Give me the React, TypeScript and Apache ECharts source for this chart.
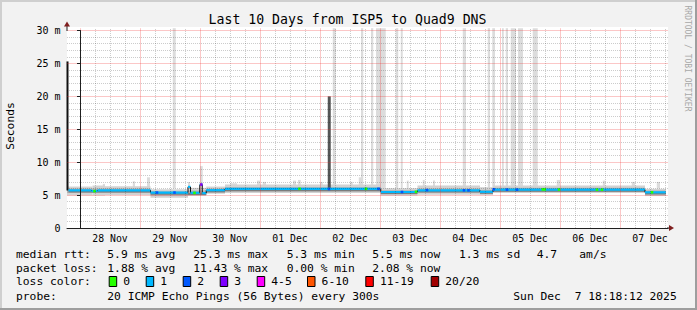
import React, { useEffect, useRef } from 'react';
import * as echarts from 'echarts';

const MONO = '"DejaVu Sans Mono", monospace';

// x values: hours since 28 Nov 00:00 ; y values: milliseconds
const xMin = -5.2;
const xMax = 235.2;
const yTop = 30.35;

const dayLabels = ['28 Nov', '29 Nov', '30 Nov', '01 Dec', '02 Dec', '03 Dec', '04 Dec', '05 Dec', '06 Dec', '07 Dec'];
const dayLabelHours = [12, 36, 60, 84, 108, 132, 156, 180, 204, 228];
const dayLineHours = [0, 24, 48, 72, 96, 120, 144, 168, 192, 216];
const quarterLineHours = [6, 12, 18, 30, 36, 42, 54, 60, 66, 78, 84, 90, 102, 108, 114, 126, 132, 138, 150, 156, 162, 174, 180, 186, 198, 204, 210, 222, 228, 234];

// median rtt, step starts [hour, ms]
const medianSteps: number[][] = [
  [-4.6, 5.72], [4.6, 5.62], [7, 5.72], [28.2, 5.38], [43.2, 6.25], [44.2, 5.35],
  [47.9, 6.6], [48.9, 5.3], [50.5, 5.75], [58, 5.95], [120.3, 5.47], [135, 5.72],
  [160, 5.5], [165.2, 5.82], [226, 5.42],
];
const medianEnd = 234.3;
const startSpike: number[][] = [[-5.4, -4.6, 5.7, 25.3]];

// smoke layers [fromHour, toHour, lowMs, highMs]
const smokeOuter: number[][] = [
  [-5.2, 5, 4.95, 6.3], [5, 10, 4.95, 6.45], [10, 28.2, 5.0, 6.35], [28.2, 43.2, 4.6, 5.9],
  [43.2, 50.5, 4.9, 6.1], [50.5, 58, 5.2, 6.3], [58, 120.3, 5.3, 6.6], [120.3, 135, 4.95, 6.05],
  [135, 160, 5.05, 6.45], [160, 165.2, 5.0, 6.2], [165.2, 226, 5.3, 6.45], [226, 234.3, 4.85, 5.95],
];
const smokeMid: number[][] = [
  [-5.2, 28.2, 5.3, 6.0], [28.2, 43.2, 4.95, 5.6], [43.2, 50.5, 5.05, 5.7], [50.5, 58, 5.35, 6.0],
  [58, 120.3, 5.55, 6.2], [120.3, 135, 5.1, 5.75], [135, 160, 5.35, 6.0], [160, 165.2, 5.15, 5.8],
  [165.2, 226, 5.45, 6.1], [226, 234.3, 5.05, 5.7],
];
const smokeCore: number[][] = [
  [-4.6, 28.2, 5.38, 5.7], [28.2, 43.2, 5.05, 5.36], [43.2, 50.5, 5.0, 5.33], [50.5, 58, 5.42, 5.73],
  [58, 120.3, 5.6, 5.92], [120.3, 135, 5.15, 5.45], [135, 160, 5.4, 5.7], [160, 165.2, 5.2, 5.48],
  [165.2, 226, 5.5, 5.8], [226, 234.3, 5.1, 5.4],
];

// outliers reaching the top of the graph [fromHour, toHour]
const outlierFull: number[][] = [
  [37.1, 38.3], [101.1, 102.3], [112.4, 113.3], [116.4, 117.3], [118.4, 122.3], [126.3, 127.3],
  [128.3, 129.1], [153.1, 154.4], [163.1, 164.0], [164.9, 166.0], [168.8, 169.5], [170.3, 171.2],
  [172.3, 174.4], [175.2, 177.2], [181.1, 183.1],
];
// smaller outliers [fromHour, toHour, topMs]
const outlierPartial: number[][] = [
  [9.1, 10, 6.7], [21.1, 22, 7.1], [26.8, 28, 7.7], [43.2, 44, 7.0], [48, 49.1, 9.4], [60, 62.8, 6.8],
  [70.8, 72, 7.2], [73.1, 74.4, 7.0], [85.2, 86.4, 7.2], [87.2, 88.3, 7.3], [96, 97.1, 7.0],
  [108, 109.1, 7.0], [111.5, 112.4, 7.7], [130.7, 131.5, 7.2], [137.1, 137.9, 7.3], [141.2, 142, 7.2],
  [190.7, 192, 7.3], [209.1, 210.1, 7.2], [220.7, 222, 7.0], [230.7, 232, 7.0],
];
const darkSpike: number[][] = [[99.1, 100.3, 5.9, 20.0]];

// median points coloured by loss [hour, ms, lossIndex]
const lossMarks: number[][] = [
  [5.8, 5.6, 0], [30.8, 5.38, 2], [37.8, 5.38, 2], [45.8, 5.33, 0], [48.5, 6.6, 3], [87.8, 5.95, 0],
  [99.6, 5.92, 2], [114.4, 5.95, 0], [119.4, 5.95, 2], [128.8, 5.47, 2], [134.4, 5.5, 0],
  [138.8, 5.76, 2], [153.6, 5.72, 2], [155.4, 5.72, 2], [165.5, 5.88, 2], [170.8, 5.82, 2],
  [174.8, 5.82, 2], [185.1, 5.86, 0], [185.9, 5.86, 0], [191.6, 5.84, 0], [206.8, 5.82, 0],
  [208.8, 5.82, 0], [228.8, 5.42, 0],
];

const lossColors = ['#26ff00', '#00b8ff', '#0059ff', '#7e00ff', '#ff00ff', '#ff5500', '#ff0000', '#a10000'];
const lossLabels = ['0', '1', '2', '3', '4-5', '6-10', '11-19', '20/20'];

const rttStats = ['5.9 ms avg', '25.3 ms max', '5.3 ms min', '5.5 ms now', '1.3 ms sd', '4.7', 'am/s'];
const lossStats = ['1.88 % avg', '11.43 % max', '0.00 % min', '2.08 % now'];
const probeText = '20 ICMP Echo Pings (56 Bytes) every 300s';
const dateParts = ['Sun Dec', '7 18:18:12 2025'];
const titleText = 'Last 10 Days from ISP5 to Quad9 DNS';

// layout
const statX = [107.3, 193.3, 286.7, 372.3, 459, 536.7, 579.3];
const boxX = [108.7, 145.7, 182.7, 219.7, 256.7, 307, 365.3, 430.7];
const rowY = [254.3, 268.3, 281.7, 296];
const GRID_LINE = 'rgba(0,0,0,0.2)';
const MGRID_LINE = 'rgba(240,40,40,0.26)';

function rectRenderer(fill: string) {
  return (params: any, api: any) => {
    const a = api.coord([api.value(0), api.value(3)]);
    const b = api.coord([api.value(1), api.value(2)]);
    return {
      type: 'rect',
      shape: { x: a[0], y: a[1], width: Math.max(b[0] - a[0], 0.6), height: b[1] - a[1] },
      style: { fill },
    };
  };
}

function rectSeries(name: string, data: number[][], fill: string, z: number) {
  return {
    type: 'custom',
    name,
    data,
    z,
    silent: true,
    clip: false,
    encode: { x: [0, 1], y: [2, 3] },
    renderItem: rectRenderer(fill),
  };
}

export default function App() {
  const ref = useRef<HTMLDivElement>(null);

  useEffect(() => {
    if (!ref.current) return;
    const chart = echarts.init(ref.current, undefined, { renderer: 'svg' });

    const medianSegs = medianSteps.map((p, i) => [
      p[0],
      i + 1 < medianSteps.length ? medianSteps[i + 1][0] : medianEnd,
      p[1],
      i > 0 ? medianSteps[i - 1][1] : p[1],
    ]);

    const txt = (text: string, x: number, y: number, extra: any = {}) => ({
      type: 'text',
      x,
      y,
      z: 20,
      silent: true,
      style: { text, font: `11.3px ${MONO}`, fill: '#000', verticalAlign: 'middle', align: 'left', ...extra },
    });

    const graphics: any[] = [
      // canvas
      { type: 'rect', z: -10, silent: true, shape: { x: 67, y: 27, width: 601, height: 201 }, style: { fill: '#ffffff' } },
      // frame shading
      { type: 'rect', z: -9, silent: true, shape: { x: 0, y: 0, width: 697, height: 2 }, style: { fill: '#cfcfcf' } },
      { type: 'rect', z: -9, silent: true, shape: { x: 0, y: 0, width: 2, height: 310 }, style: { fill: '#cfcfcf' } },
      { type: 'rect', z: -9, silent: true, shape: { x: 0, y: 308, width: 697, height: 2 }, style: { fill: '#9e9e9e' } },
      { type: 'rect', z: -9, silent: true, shape: { x: 695, y: 0, width: 2, height: 310 }, style: { fill: '#9e9e9e' } },
      // axis extensions and arrows
      { type: 'line', z: 15, silent: true, shape: { x1: 67, y1: 26, x2: 67, y2: 31 }, style: { stroke: '#1f1f1f', lineWidth: 1 } },
      { type: 'line', z: 15, silent: true, shape: { x1: 667, y1: 228, x2: 670, y2: 228 }, style: { stroke: '#1f1f1f', lineWidth: 1 } },
      { type: 'polygon', z: 15, silent: true, shape: { points: [[67, 21.5], [64, 26.5], [70, 26.5]] }, style: { fill: '#7f1f1f' } },
      { type: 'polygon', z: 15, silent: true, shape: { points: [[674, 228], [669, 225], [669, 231]] }, style: { fill: '#7f1f1f' } },
      // title
      txt(titleText, 347.5, 19, { font: `13.2px ${MONO}`, align: 'center' }),
      // y axis name
      { type: 'text', x: 10.5, y: 126, rotation: Math.PI / 2, z: 20, silent: true,
        style: { text: 'Seconds', font: `11.3px ${MONO}`, fill: '#000', align: 'center', verticalAlign: 'middle' } },
      // watermark
      { type: 'text', x: 687, y: 58.5, rotation: -Math.PI / 2, z: 20, silent: true,
        style: { text: 'RRDTOOL / TOBI OETIKER', font: `8px ${MONO}`, fill: '#a8a8a8', align: 'center', verticalAlign: 'middle' } },
      // legend rows
      txt('median rtt:', 16, rowY[0]),
      ...rttStats.map((s, i) => txt(s, statX[i], rowY[0])),
      txt('packet loss:', 16, rowY[1]),
      ...lossStats.map((s, i) => txt(s, statX[i], rowY[1])),
      txt('loss color:', 16, rowY[2]),
      ...lossColors.map((c, i) => ({
        type: 'rect', z: 20, silent: true,
        shape: { x: boxX[i] + 0.5, y: 276.5, width: 7.5, height: 10 },
        style: { fill: c, stroke: '#000', lineWidth: 1 },
      })),
      ...lossLabels.map((l, i) => txt(l, boxX[i] + 14.6, rowY[2])),
      txt('probe:', 16, rowY[3]),
      txt(probeText, statX[0], rowY[3]),
      txt(dateParts[0], 513.3, rowY[3]),
      txt(dateParts[1], 574.7, rowY[3]),
    ];

    const vgridSeries = (name: string, hours: number[], color: string, dash: number[] | null) => ({
      type: 'custom',
      name,
      data: hours.map((h) => [h, 0]),
      z: 11,
      silent: true,
      clip: false,
      encode: { x: 0, y: 1 },
      renderItem: (params: any, api: any) => {
        const a = api.coord([api.value(0), 0]);
        const b = api.coord([api.value(0), yTop]);
        const x = Math.round(a[0]) + 0.5;
        return {
          type: 'line',
          shape: { x1: x, y1: a[1], x2: x, y2: b[1] },
          style: dash ? { stroke: color, lineWidth: 1, lineDash: dash } : { stroke: color, lineWidth: 1 },
        };
      },
    });

    const option: any = {
      animation: false,
      backgroundColor: '#f2f2f2',
      grid: { left: 67, top: 30.5, width: 601, height: 197.5, containLabel: false },
      xAxis: {
        type: 'value',
        min: xMin,
        max: xMax,
        z: 12,
        axisLine: { show: true, lineStyle: { color: '#1f1f1f', width: 1 } },
        axisTick: { show: false },
        splitLine: { show: false },
        axisLabel: {
          show: true,
          customValues: dayLabelHours,
          margin: 5,
          color: '#000',
          fontFamily: MONO,
          fontSize: 9.8,
          formatter: (v: number) => {
            const i = dayLabelHours.indexOf(Math.round(v));
            return i >= 0 ? dayLabels[i] : '';
          },
        },
      },
      yAxis: {
        type: 'value',
        min: 0,
        max: 30,
        interval: 5,
        z: 12,
        axisLine: { show: true, lineStyle: { color: '#1f1f1f', width: 1 } },
        axisTick: { show: true, length: 3, lineStyle: { color: '#1f1f1f' } },
        axisLabel: {
          margin: 6.5,
          color: '#000',
          fontFamily: MONO,
          fontSize: 10,
          formatter: (v: number) => (v === 0 ? '0' : `${v} m`),
        },
        splitLine: { show: true, lineStyle: { color: MGRID_LINE, width: 1, type: 'solid' } },
        minorTick: { show: false, splitNumber: 5 },
        minorSplitLine: { show: true, lineStyle: { color: GRID_LINE, width: 1, type: [1, 1] } },
      },
      series: [
        rectSeries('outliers', [
          ...outlierFull.map((d) => [d[0], d[1], 6.0, yTop]),
          ...outlierPartial.map((d) => [d[0], d[1], 6.0, d[2]]),
        ], '#dcdcdc', 2),
        rectSeries('smoke outer', smokeOuter, '#d2d2d2', 3),
        rectSeries('smoke mid', smokeMid, '#b2b2b2', 4),
        rectSeries('smoke core', smokeCore, '#7c7c7c', 5),
        rectSeries('dark outlier', darkSpike, '#555555', 6),
        rectSeries('start', startSpike, '#111111', 6),
        {
          type: 'custom',
          name: 'median rtt',
          data: medianSegs,
          z: 7,
          silent: true,
          clip: false,
          encode: { x: [0, 1], y: [2] },
          renderItem: (params: any, api: any) => {
            const a = api.coord([api.value(0), api.value(2)]);
            const b = api.coord([api.value(1), api.value(2)]);
            const p = api.coord([api.value(0), api.value(3)]);
            return {
              type: 'group',
              children: [
                { type: 'line', shape: { x1: a[0], y1: p[1], x2: a[0], y2: a[1] }, style: { stroke: '#111', lineWidth: 1 } },
                { type: 'line', shape: { x1: a[0], y1: a[1], x2: b[0], y2: b[1] }, style: { stroke: lossColors[1], lineWidth: 2.2 } },
              ],
            };
          },
        },
        {
          type: 'custom',
          name: 'loss marks',
          data: lossMarks,
          z: 8,
          silent: true,
          clip: false,
          encode: { x: 0, y: 1 },
          renderItem: (params: any, api: any) => {
            const c = api.coord([api.value(0), api.value(1)]);
            return {
              type: 'rect',
              shape: { x: c[0] - 1.3, y: c[1] - 1.3, width: 2.6, height: 2.6 },
              style: { fill: lossColors[api.value(2)] },
            };
          },
        },
        vgridSeries('minor grid', quarterLineHours, GRID_LINE, [1, 1]),
        vgridSeries('day grid', dayLineHours, MGRID_LINE, null),
      ],
      graphic: { elements: graphics },
    };

    chart.setOption(option);
    return () => chart.dispose();
  }, []);

  return (
    <div
      ref={ref}
      style={{ position: 'fixed', left: 0, top: 0, width: 697, height: 310 }}
    />
  );
}
